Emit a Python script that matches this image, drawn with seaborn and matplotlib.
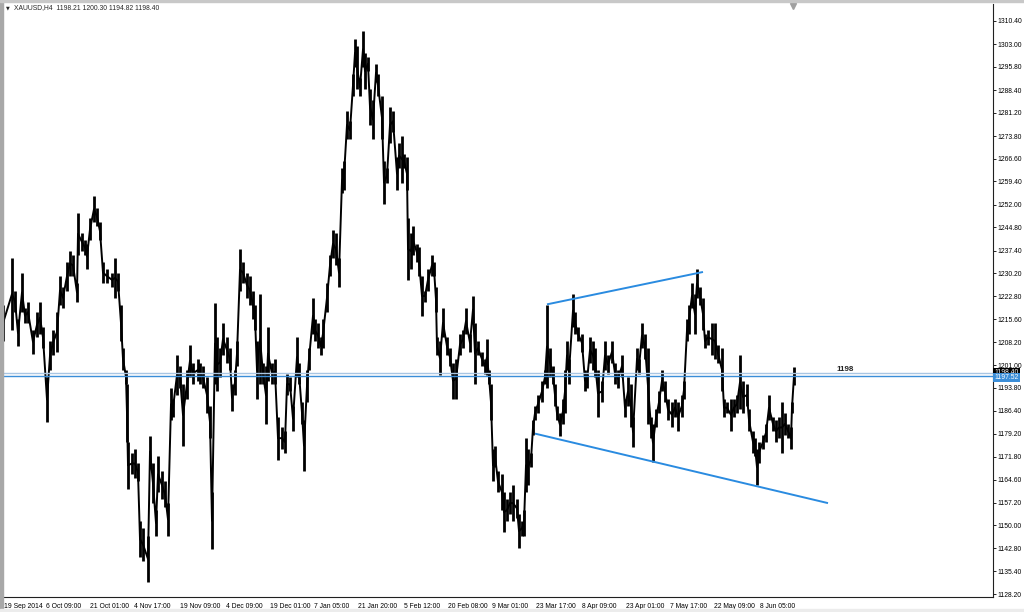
import matplotlib
matplotlib.use("Agg")
import matplotlib.pyplot as plt
import matplotlib.transforms as mtransforms
import seaborn as sns
import pandas as pd

# XAUUSD H4 as (bar position, high, low) columns
bar_x = [3, 12, 15, 18, 22, 25, 28, 33, 37, 40, 43, 47, 50, 53, 57, 60, 63, 67, 70, 73,
         77, 78, 82, 85, 87, 90, 94, 97, 100, 103, 107, 112, 115, 118, 121, 123, 126, 127, 128, 132,
         135, 138, 140, 143, 148, 150, 153, 156, 158, 162, 165, 168, 171, 173, 177, 180, 183, 187, 190, 193,
         198, 200, 203, 207, 210, 212, 215, 217, 220, 223, 227, 230, 232, 235, 237, 240, 243, 247, 250, 253,
         255, 257, 260, 263, 266, 268, 272, 275, 278, 282, 285, 287, 290, 293, 297, 299, 302, 304, 307, 309,
         313, 315, 318, 321, 323, 327, 330, 333, 336, 339, 342, 344, 347, 350, 353, 355, 357, 360, 363, 365,
         368, 370, 373, 376, 378, 382, 384, 387, 390, 393, 397, 399, 402, 404, 407, 408, 411, 413, 417, 419,
         422, 425, 428, 432, 434, 436, 437, 440, 443, 447, 450, 453, 456, 460, 463, 466, 470, 473, 475, 478,
         482, 485, 487, 489, 491, 493, 495, 498, 502, 504, 507, 510, 513, 517, 519, 522, 524, 526, 528, 531,
         533, 535, 538, 542, 545, 547, 550, 553, 555, 557, 560, 563, 565, 567, 569, 573, 575, 578, 582, 585,
         587, 590, 593, 595, 598, 602, 605, 608, 612, 615, 618, 622, 625, 628, 631, 633, 637, 639, 642, 645,
         648, 651, 653, 656, 659, 662, 665, 668, 672, 675, 678, 682, 684, 687, 689, 692, 695, 697, 700, 703,
         705, 708, 712, 715, 718, 722, 724, 727, 731, 734, 737, 740, 743, 747, 749, 753, 755, 757, 759, 763,
         766, 769, 773, 776, 779, 782, 785, 788, 791, 792, 794]
bar_hi = [1220.1, 1235.0, 1224.7, 1215.5, 1230.4, 1219.0, 1221.2, 1212.1, 1217.8, 1221.2, 1213.2, 1197.2, 1208.6, 1212.1, 1217.8, 1229.3, 1225.8, 1233.8, 1237.3, 1236.1,
          1227.0, 1249.3, 1243.0, 1240.7, 1239.6, 1247.6, 1254.7, 1251.0, 1246.4, 1233.8, 1231.5, 1230.4, 1235.0, 1230.4, 1220.1, 1206.4, 1199.5, 1194.9, 1176.6, 1173.1,
          1174.3, 1169.7, 1151.4, 1149.1, 1146.8, 1178.3, 1169.7, 1154.8, 1172.0, 1167.4, 1164.0, 1157.1, 1193.7, 1190.3, 1204.1, 1200.6, 1194.9, 1199.5, 1207.5, 1201.8,
          1202.9, 1201.8, 1200.6, 1197.2, 1188.0, 1160.5, 1220.7, 1209.8, 1206.4, 1214.4, 1209.8, 1206.4, 1194.9, 1199.5, 1208.6, 1237.8, 1233.8, 1230.4, 1229.3, 1224.7,
          1220.1, 1208.6, 1223.5, 1201.8, 1200.6, 1213.2, 1201.8, 1202.9, 1184.6, 1181.2, 1180.0, 1198.3, 1197.2, 1188.0, 1209.8, 1201.8, 1189.2, 1183.4, 1199.5, 1206.4,
          1222.4, 1215.5, 1214.4, 1209.8, 1215.5, 1227.0, 1236.1, 1244.1, 1243.0, 1235.0, 1263.6, 1265.9, 1281.9, 1278.5, 1293.4, 1304.8, 1302.5, 1292.2, 1307.1, 1300.2,
          1299.1, 1288.8, 1285.4, 1296.8, 1293.4, 1286.5, 1265.9, 1263.6, 1283.1, 1281.9, 1267.0, 1271.6, 1273.9, 1268.2, 1267.0, 1247.6, 1243.0, 1245.3, 1239.6, 1238.4,
          1229.3, 1224.7, 1231.5, 1236.1, 1233.8, 1225.8, 1209.8, 1208.6, 1219.0, 1209.8, 1206.4, 1201.8, 1202.9, 1210.9, 1212.1, 1219.0, 1210.9, 1222.9, 1214.4, 1208.6,
          1205.2, 1202.9, 1209.2, 1199.5, 1194.9, 1174.3, 1175.4, 1167.4, 1166.3, 1160.5, 1158.3, 1160.5, 1162.8, 1158.3, 1153.7, 1151.4, 1154.8, 1177.7, 1174.3, 1173.1,
          1183.4, 1188.0, 1191.5, 1196.0, 1199.5, 1220.1, 1206.4, 1200.6, 1194.9, 1188.0, 1185.7, 1190.3, 1199.5, 1208.6, 1202.9, 1223.5, 1217.8, 1213.2, 1210.9, 1199.5,
          1198.3, 1209.8, 1208.6, 1206.4, 1199.5, 1196.0, 1208.6, 1204.1, 1208.6, 1201.8, 1199.5, 1204.1, 1190.3, 1197.2, 1194.9, 1184.6, 1206.4, 1202.9, 1214.4, 1210.9,
          1206.4, 1184.6, 1182.3, 1186.9, 1192.6, 1199.5, 1196.0, 1190.3, 1189.2, 1190.3, 1189.2, 1191.5, 1196.0, 1215.5, 1220.1, 1227.0, 1223.5, 1231.5, 1225.8, 1222.4,
          1210.9, 1212.1, 1214.4, 1214.4, 1207.5, 1206.4, 1190.3, 1189.2, 1190.3, 1190.3, 1191.5, 1204.1, 1196.0, 1194.9, 1186.9, 1180.0, 1177.7, 1174.3, 1176.6, 1178.9,
          1182.3, 1191.5, 1184.6, 1183.4, 1184.6, 1189.2, 1185.7, 1182.3, 1181.2, 1189.2, 1200.3]
bar_lo = [1208.6, 1212.1, 1217.8, 1206.9, 1217.8, 1214.4, 1214.4, 1204.6, 1209.8, 1210.9, 1206.4, 1182.9, 1199.5, 1204.1, 1205.2, 1220.1, 1219.0, 1224.7, 1229.3, 1229.3,
          1221.2, 1236.1, 1237.3, 1236.1, 1231.5, 1240.7, 1246.4, 1245.3, 1240.7, 1227.0, 1227.0, 1225.8, 1222.4, 1224.7, 1208.6, 1199.5, 1194.9, 1176.6, 1161.7, 1166.3,
          1165.1, 1164.0, 1139.9, 1138.8, 1131.9, 1168.6, 1157.1, 1146.8, 1160.5, 1158.3, 1155.9, 1146.8, 1183.4, 1184.6, 1191.5, 1193.7, 1175.4, 1190.3, 1197.2, 1194.9,
          1196.0, 1194.9, 1193.7, 1185.7, 1177.7, 1142.5, 1194.9, 1192.6, 1197.2, 1204.1, 1201.8, 1199.5, 1186.3, 1191.5, 1200.6, 1224.7, 1227.0, 1222.4, 1220.1, 1215.5,
          1212.1, 1190.3, 1194.9, 1194.9, 1182.3, 1196.0, 1194.9, 1194.9, 1170.9, 1174.3, 1173.1, 1191.5, 1192.6, 1180.0, 1197.2, 1194.9, 1182.3, 1167.4, 1189.2, 1199.5,
          1210.9, 1208.6, 1206.4, 1204.1, 1206.4, 1217.8, 1229.3, 1235.0, 1232.7, 1225.8, 1255.6, 1256.7, 1272.8, 1272.8, 1286.5, 1295.7, 1288.8, 1286.5, 1295.7, 1288.8,
          1294.5, 1277.3, 1272.8, 1291.1, 1286.5, 1272.8, 1252.2, 1259.0, 1271.6, 1275.1, 1256.7, 1263.6, 1259.0, 1263.6, 1256.7, 1228.1, 1231.5, 1236.1, 1233.8, 1229.3,
          1216.6, 1221.2, 1224.7, 1229.3, 1229.3, 1217.8, 1204.1, 1197.8, 1209.8, 1204.1, 1200.6, 1190.3, 1190.3, 1204.1, 1206.4, 1210.9, 1205.2, 1214.4, 1194.9, 1204.1,
          1200.6, 1198.3, 1197.8, 1194.9, 1183.4, 1164.0, 1168.6, 1160.5, 1154.8, 1148.0, 1151.4, 1153.7, 1151.4, 1152.5, 1142.8, 1146.8, 1146.8, 1160.5, 1162.8, 1168.6,
          1178.9, 1183.4, 1185.7, 1189.2, 1194.9, 1193.7, 1197.2, 1194.9, 1188.0, 1183.4, 1178.3, 1182.3, 1185.7, 1199.5, 1194.9, 1213.2, 1210.9, 1208.6, 1205.2, 1192.6,
          1193.7, 1201.8, 1199.5, 1197.2, 1184.6, 1189.2, 1199.5, 1198.3, 1201.8, 1194.9, 1193.7, 1197.2, 1184.6, 1188.0, 1181.2, 1174.9, 1199.5, 1198.3, 1206.4, 1202.9,
          1182.3, 1177.7, 1170.3, 1181.2, 1185.7, 1192.6, 1189.2, 1183.4, 1181.2, 1184.6, 1180.0, 1184.6, 1190.3, 1208.6, 1210.9, 1219.0, 1210.9, 1222.4, 1220.1, 1212.1,
          1206.4, 1207.5, 1204.1, 1202.9, 1201.8, 1192.6, 1184.6, 1185.7, 1180.0, 1184.6, 1185.7, 1186.9, 1185.7, 1188.0, 1180.0, 1173.1, 1172.0, 1162.8, 1169.7, 1174.3,
          1176.6, 1183.4, 1180.0, 1176.6, 1177.7, 1173.1, 1178.9, 1177.7, 1174.3, 1185.7, 1194.8]

# x axis (time) labels and their bar positions
time_labels = ["19 Sep 2014", "6 Oct 09:00", "21 Oct 01:00", "4 Nov 17:00", "19 Nov 09:00",
               "4 Dec 09:00", "19 Dec 01:00", "7 Jan 05:00", "21 Jan 20:00", "5 Feb 12:00",
               "20 Feb 08:00", "9 Mar 01:00", "23 Mar 17:00", "8 Apr 09:00", "23 Apr 01:00",
               "7 May 17:00", "22 May 09:00", "8 Jun 05:00"]
time_pos = [3, 44, 89, 133, 179, 224, 268, 313, 357, 402, 447, 491, 535, 580, 624, 669, 713, 758]

price_labels = ["1310.40", "1303.00", "1295.80", "1288.40", "1281.20", "1273.80", "1266.60",
                "1259.40", "1252.00", "1244.80", "1237.40", "1230.20", "1222.80", "1215.60",
                "1208.20", "1201.00", "1193.80", "1186.40", "1179.20", "1171.80", "1164.60",
                "1157.20", "1150.00", "1142.80", "1135.40", "1128.20"]

# drawn objects
upper_line = ([547, 703], [1220.3, 1230.6])
lower_line = ([535, 828], [1179.2, 1157.1])
level_price = 1197.52
bid_price = 1198.40
ohlc = "1198.21 1200.30 1194.82 1198.40"

df = pd.DataFrame({"bar": bar_x, "high": bar_hi, "low": bar_lo})
df["mid"] = (df["high"] + df["low"]) / 2

sns.set_style("white")
plt.rcParams["font.family"] = ["Liberation Sans", "DejaVu Sans"]
fs = 4.9

fig = plt.figure(figsize=(10.24, 6.12), dpi=100)
W, H = 1024, 612
ax = fig.add_axes([3 / W, 1 - 597 / H, 990 / W, 593 / H])

ax.vlines(df["bar"], df["low"], df["high"], color="black", linewidth=2.0)
sns.lineplot(data=df, x="bar", y="mid", color="black", linewidth=1.4, ax=ax, estimator=None)

# horizontal level and bid line
ax.axhline(bid_price, color="#a9c6e3", linewidth=1.0)
ax.axhline(level_price, color="#3b8ed8", linewidth=1.0)

# channel trendlines
ax.plot(upper_line[0], upper_line[1], color="#2a8be0", linewidth=1.4, solid_capstyle="butt")
ax.plot(lower_line[0], lower_line[1], color="#2a8be0", linewidth=1.4, solid_capstyle="butt")

ax.text(845, 1199.5, "1198", fontsize=5.8, fontweight="bold", ha="center", va="center")

ax.set_xlim(3, 993)
ax.set_ylim(1127.25, 1315.8)
ax.set_xlabel("")
ax.set_ylabel("")

ax.yaxis.tick_right()
ax.set_yticks([float(p) for p in price_labels])
ax.set_yticklabels(price_labels)
ax.set_xticks(time_pos)
ax.set_xticklabels(time_labels)
ax.tick_params(axis="y", direction="out", length=2.2, width=0.6, pad=1.2, labelsize=fs, colors="black")
ax.tick_params(axis="x", direction="out", length=2.5, width=0.6, pad=1.5, labelsize=fs, colors="black")
shift = mtransforms.ScaledTranslation(1.5 / 100, 0, fig.dpi_scale_trans)
for lab in ax.get_xticklabels():
    lab.set_horizontalalignment("left")
    lab.set_transform(lab.get_transform() + shift)

for side in ["top", "left"]:
    ax.spines[side].set_visible(False)
for side in ["right", "bottom"]:
    ax.spines[side].set_color("#202020")
    ax.spines[side].set_linewidth(0.8)

# price tags on the right scale
blend = mtransforms.blended_transform_factory(ax.transAxes, ax.transData)
ax.text(1.0015, bid_price + 0.35, "1198.40", transform=blend, fontsize=fs, color="white",
        ha="left", va="center", clip_on=False,
        bbox=dict(boxstyle="square,pad=0.15", fc="black", ec="none"))
ax.text(1.0015, level_price - 0.55, "1197.52", transform=blend, fontsize=fs, color="white",
        ha="left", va="center", clip_on=False,
        bbox=dict(boxstyle="square,pad=0.15", fc="#3b8ed8", ec="none"))

# chart shift marker
ax.plot([793], [1315.2], marker="v", markersize=4, color="#a0a0a0", clip_on=False)

# window frame and header
fig.patches.append(plt.Rectangle((0, 0), 3 / W, 1, transform=fig.transFigure, color="#a8a8a8"))
fig.patches.append(plt.Rectangle((0, 1 - 2 / H), 1, 2 / H, transform=fig.transFigure, color="#c8c8c8"))
fig.patches.append(plt.Rectangle((0, 0), 1, 3 / H, transform=fig.transFigure, color="#ececec"))
fig.text(6 / W, 1 - 8 / H, "\u25bc", fontsize=3.5, va="center", ha="left", family="DejaVu Sans")
fig.text(14 / W, 1 - 8 / H, "XAUUSD,H4  " + ohlc, fontsize=fs, va="center", ha="left")

fig.savefig("out.png", dpi=100)
